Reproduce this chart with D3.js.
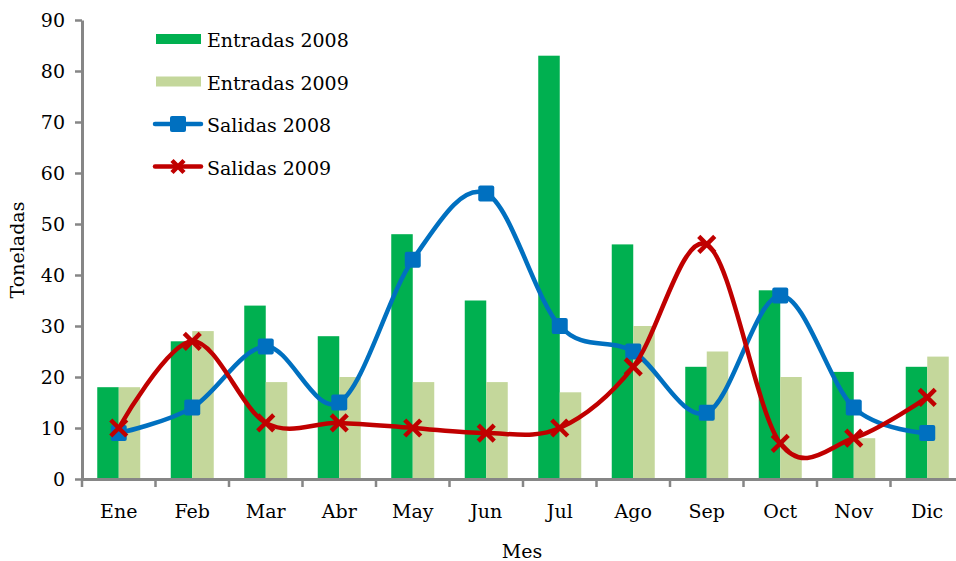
<!DOCTYPE html>
<html>
<head>
<meta charset="utf-8">
<script src="https://cdn.jsdelivr.net/npm/d3@7/dist/d3.min.js"></script>
<style>
  html, body { margin: 0; padding: 0; background: #fff; overflow: hidden; }
  text { font-family: "DejaVu Serif", "Liberation Serif", serif; fill: #000; }
</style>
</head>
<body>
<svg id="chart" width="956" height="561"></svg>
<script>
// Monthly inflows (bars) and outflows (smoothed lines), tonnes
const months = ["Ene", "Feb", "Mar", "Abr", "May", "Jun", "Jul", "Ago", "Sep", "Oct", "Nov", "Dic"];
const entradas2008 = [18, 27, 34, 28, 48, 35, 83, 46, 22, 37, 21, 22];
const entradas2009 = [18, 29, 19, 20, 19, 19, 17, 30, 25, 20, 8, 24];
const salidas2008 = [9, 14, 26, 15, 43, 56, 30, 25, 13, 36, 14, 9];
const salidas2009 = [10, 27, 11, 11, 10, 9, 10, 22, 46, 7, 8, 16];
const yTicks = [0, 10, 20, 30, 40, 50, 60, 70, 80, 90];

const colors = {
  e08: "#00B050",
  e09: "#C4D79B",
  s08: "#0070C0",
  s09: "#C00000",
  axis: "#868686"
};

const svg = d3.select("#chart");
const margin = { left: 82, top: 20, right: 964, bottom: 479 };

const x = d3.scaleBand().domain(months).range([margin.left, margin.right]).paddingInner(0).paddingOuter(0);
const y = d3.scaleLinear().domain([0, 90]).range([margin.bottom, margin.top]);
const groupW = 43;
const xs = d3.scaleBand().domain(["e08", "e09"]).range([0, groupW]);
const cx = m => x(m) + x.bandwidth() / 2;

// Bars
const bars = svg.append("g");
[["e08", entradas2008], ["e09", entradas2009]].forEach(([key, vals]) => {
  bars.selectAll(null)
    .data(months.map((m, i) => ({ m, v: vals[i] })))
    .join("rect")
    .attr("x", d => cx(d.m) - groupW / 2 + xs(key))
    .attr("width", xs.bandwidth())
    .attr("y", d => y(d.v))
    .attr("height", d => y(0) - y(d.v))
    .attr("fill", colors[key]);
});

// Axes
const yAxis = svg.append("g")
  .attr("transform", `translate(${margin.left},0)`)
  .call(d3.axisLeft(y).tickValues(yTicks).tickSize(7).tickPadding(10).tickSizeOuter(0));
yAxis.select(".domain").attr("stroke", colors.axis).attr("stroke-width", 3);
yAxis.selectAll(".tick line").attr("stroke", colors.axis).attr("stroke-width", 2.5);
yAxis.selectAll(".tick text").style("font-size", "19px").style("font-family", "DejaVu Serif");

const xAxis = svg.append("g")
  .attr("transform", `translate(0,${margin.bottom})`)
  .call(d3.axisBottom(x).tickSize(0).tickPadding(26));
xAxis.select(".domain").attr("stroke", colors.axis).attr("stroke-width", 3);
xAxis.selectAll(".tick text").style("font-size", "19px").style("font-family", "DejaVu Serif");
// Tick marks between categories
svg.append("g").selectAll("line")
  .data(d3.range(months.length + 1))
  .join("line")
  .attr("x1", i => margin.left + i * x.bandwidth())
  .attr("x2", i => margin.left + i * x.bandwidth())
  .attr("y1", margin.bottom)
  .attr("y2", margin.bottom + 8)
  .attr("stroke", colors.axis)
  .attr("stroke-width", 2.5);

// Smoothed lines
const line = d3.line().x(d => cx(d.m)).y(d => y(d.v)).curve(d3.curveCardinal.tension(0));
function drawSeries(vals, color, markerFn) {
  const data = months.map((m, i) => ({ m, v: vals[i] }));
  svg.append("path").datum(data)
    .attr("d", line).attr("fill", "none")
    .attr("stroke", color).attr("stroke-width", 4.5);
  const g = svg.append("g");
  data.forEach(d => markerFn(g, cx(d.m), y(d.v)));
}
const square = (g, px, py) => g.append("rect")
  .attr("x", px - 8).attr("y", py - 8).attr("width", 16).attr("height", 16)
  .attr("rx", 2).attr("fill", colors.s08);
const cross = (g, px, py) => g.append("path")
  .attr("d", `M${px - 8},${py - 8}L${px + 8},${py + 8}M${px - 8},${py + 8}L${px + 8},${py - 8}`)
  .attr("stroke", colors.s09).attr("stroke-width", 4.5).attr("fill", "none");

drawSeries(salidas2008, colors.s08, square);
drawSeries(salidas2009, colors.s09, cross);

// Axis titles
svg.append("text").attr("x", 522).attr("y", 558).attr("text-anchor", "middle")
  .style("font-size", "19px").text("Mes");
svg.append("text").attr("transform", "translate(24,250) rotate(-90)").attr("text-anchor", "middle")
  .style("font-size", "19px").text("Toneladas");

// Legend
const legend = [
  { label: "Entradas 2008", type: "bar", color: colors.e08 },
  { label: "Entradas 2009", type: "bar", color: colors.e09 },
  { label: "Salidas 2008", type: "sq", color: colors.s08 },
  { label: "Salidas 2009", type: "x", color: colors.s09 }
];
const lg = svg.append("g");
legend.forEach((d, i) => {
  const yy = 39 + i * 42.5;
  if (d.type === "bar") {
    lg.append("rect").attr("x", 156).attr("y", yy - 5).attr("width", 45).attr("height", 10).attr("fill", d.color);
  } else {
    lg.append("line").attr("x1", 155).attr("x2", 201).attr("y1", yy).attr("y2", yy)
      .attr("stroke", d.color).attr("stroke-width", 4.5).attr("stroke-linecap", "round");
    if (d.type === "sq") square(lg, 178, yy);
    else lg.append("path")
      .attr("d", `M${172},${yy - 6}L${184},${yy + 6}M${172},${yy + 6}L${184},${yy - 6}`)
      .attr("stroke", d.color).attr("stroke-width", 4.5);
  }
  lg.append("text").attr("x", 207).attr("y", yy + 8).style("font-size", "19px").text(d.label);
});
</script>
</body>
</html>
